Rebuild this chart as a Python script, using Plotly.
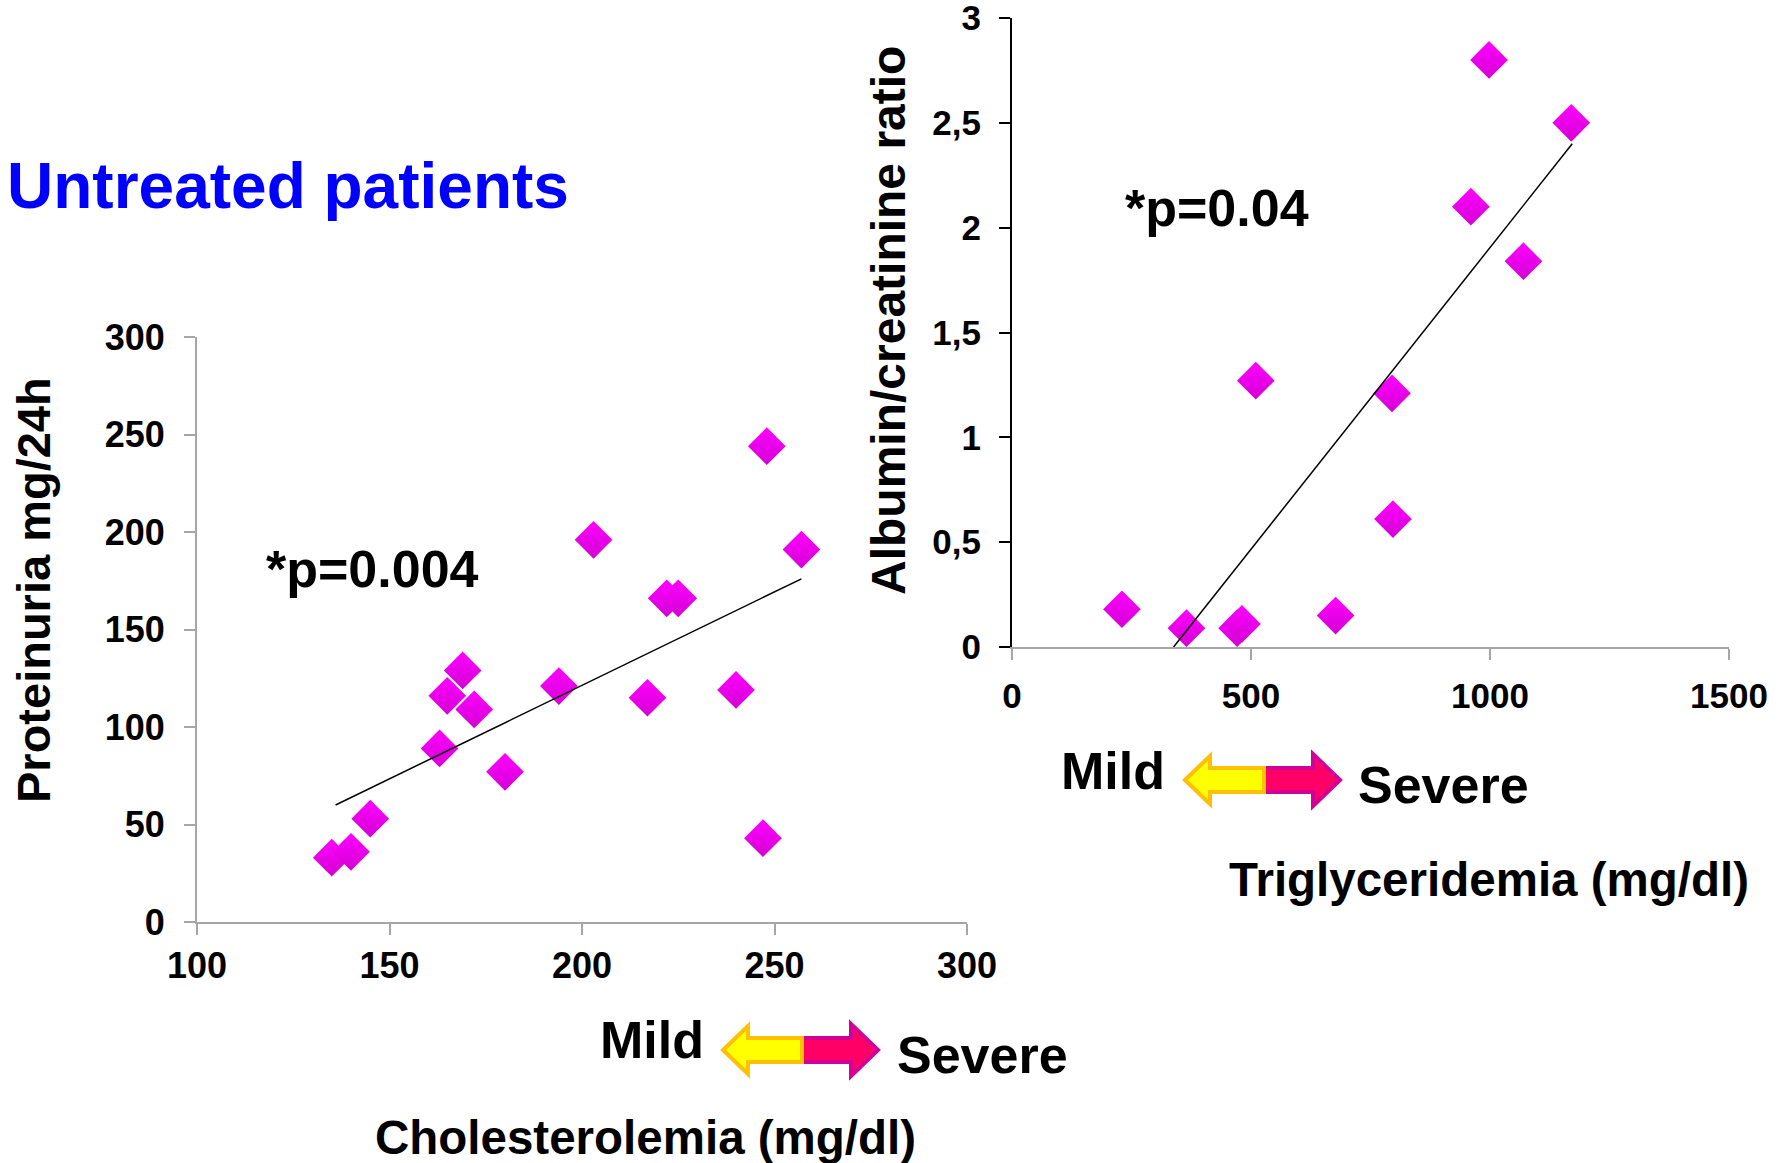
import plotly.graph_objects as go

W, H = 1783, 1163

# ---------------- data ----------------
chol = [135, 140, 145, 163, 165, 169, 172, 180, 194, 203, 217, 222, 225, 240, 248, 247, 257]
prot = [33, 36, 53, 89, 116, 129, 109, 77, 121, 196, 115, 166, 166, 119, 244, 43, 191]
chol_trend_x = [136, 257]
chol_trend_y = [60, 176]

trig = [230, 365, 471, 481, 510, 677, 795, 797, 960, 998, 1070, 1170]
acr = [0.18, 0.09, 0.09, 0.11, 1.27, 0.15, 1.21, 0.61, 2.10, 2.80, 1.84, 2.50]
trig_trend_x = [338, 1172]
trig_trend_y = [0.0, 2.40]

left_x_ticks = [100, 150, 200, 250, 300]
left_x_labels = ["100", "150", "200", "250", "300"]
left_y_ticks = [0, 50, 100, 150, 200, 250, 300]
left_y_labels = ["0", "50", "100", "150", "200", "250", "300"]
right_x_ticks = [0, 500, 1000, 1500]
right_x_labels = ["0", "500", "1000", "1500"]
right_y_ticks = [0, 0.5, 1, 1.5, 2, 2.5, 3]
right_y_labels = ["0", "0,5", "1", "1,5", "2", "2,5", "3"]

FONT = "Liberation Sans, Arial, sans-serif"


def px(x):
    return x / W


def py(y):
    return 1 - y / H


fig = go.Figure()

marker = dict(symbol="diamond", size=29, color="#FF00FF",
              line=dict(width=0),
              gradient=dict(type="vertical", color="#D400D4"))

fig.add_trace(go.Scatter(x=chol, y=prot, mode="markers", marker=marker,
                         xaxis="x", yaxis="y", showlegend=False))
fig.add_trace(go.Scatter(x=chol_trend_x, y=chol_trend_y, mode="lines",
                         line=dict(color="black", width=1.5),
                         xaxis="x", yaxis="y", showlegend=False))
fig.add_trace(go.Scatter(x=trig, y=acr, mode="markers", marker=marker,
                         xaxis="x2", yaxis="y2", showlegend=False))
fig.add_trace(go.Scatter(x=trig_trend_x, y=trig_trend_y, mode="lines",
                         line=dict(color="black", width=1.5),
                         xaxis="x2", yaxis="y2", showlegend=False))

grey = "#A6A6A6"
common = dict(showgrid=False, zeroline=False, showline=True, linewidth=2,
              ticks="outside", ticklen=11, tickwidth=2, fixedrange=True,
              automargin=False, ticklabeloverflow="allow")

fig.update_layout(
    width=W, height=H,
    margin=dict(l=0, r=0, t=0, b=0, pad=0, autoexpand=False),
    showlegend=False,
    paper_bgcolor="white", plot_bgcolor="white",
    xaxis=dict(domain=[px(197), px(967)], range=[100, 300], anchor="y",
               tickvals=left_x_ticks, ticktext=left_x_labels,
               linecolor=grey, tickcolor=grey,
               tickfont=dict(family=FONT, size=36, color="black", weight="bold"),
               **common),
    yaxis=dict(domain=[py(922), py(337)], range=[0, 300], anchor="x",
               tickvals=left_y_ticks, ticktext=left_y_labels,
               linecolor=grey, tickcolor=grey, ticklabelstandoff=12,
               tickfont=dict(family=FONT, size=36, color="black", weight="bold"),
               **common),
    xaxis2=dict(domain=[px(1012), px(1729)], range=[0, 1500], anchor="y2",
                tickvals=right_x_ticks, ticktext=right_x_labels,
                linecolor=grey, tickcolor=grey, ticklabelstandoff=6,
                tickfont=dict(family=FONT, size=35, color="black", weight="bold"),
                **common),
    yaxis2=dict(domain=[py(647), py(18)], range=[0, 3], anchor="x2",
                tickvals=right_y_ticks, ticktext=right_y_labels,
                linecolor="black", tickcolor="black", ticklabelstandoff=11,
                tickfont=dict(family=FONT, size=35, color="black", weight="bold"),
                **common),
)


def ann(text, x, y, size, color="black", angle=0):
    fig.add_annotation(text=text, x=px(x), y=py(y), xref="paper", yref="paper",
                       showarrow=False, xanchor="center", yanchor="middle",
                       textangle=angle,
                       font=dict(family=FONT, size=size, color=color, weight="bold"))


ann("Untreated patients", 288, 186, 64, color="#0000FF")
ann("Proteinuria mg/24h", 33, 590, 47, angle=-90)
ann("Albumin/creatinine ratio", 889, 321, 48, angle=-90)
ann("*p=0.004", 372, 569, 52)
ann("*p=0.04", 1217, 208, 52)
ann("Mild", 652, 1040, 52)
ann("Severe", 982, 1055, 52)
ann("Cholesterolemia (mg/dl)", 645, 1137, 47.5)
ann("Mild", 1113, 771, 52)
ann("Severe", 1443, 785, 52)
ann("Triglyceridemia (mg/dl)", 1489, 879, 47.5)


def poly(points, dx, dy):
    return "M " + " L ".join(f"{px(x + dx):.5f},{py(y + dy):.5f}" for x, y in points) + " Z"


pink_pts = [(802, 1038), (851, 1038), (851, 1024), (878, 1050), (851, 1076), (851, 1062), (802, 1062)]
yellow_pts = [(723, 1050), (748, 1026), (748, 1038), (802, 1038), (802, 1062), (748, 1062), (748, 1074)]

for dx, dy in [(0, 0), (462, -270)]:
    fig.add_shape(type="path", xref="paper", yref="paper", path=poly(pink_pts, dx, dy),
                  fillcolor="#FF0066", line=dict(color="#D10096", width=4))
    fig.add_shape(type="path", xref="paper", yref="paper", path=poly(yellow_pts, dx, dy),
                  fillcolor="#FFFF00", line=dict(color="#FFC000", width=4))

fig.write_html("out.html", config={"displayModeBar": False},
               post_script="document.body.style.margin='0';document.body.style.overflow='hidden';")
